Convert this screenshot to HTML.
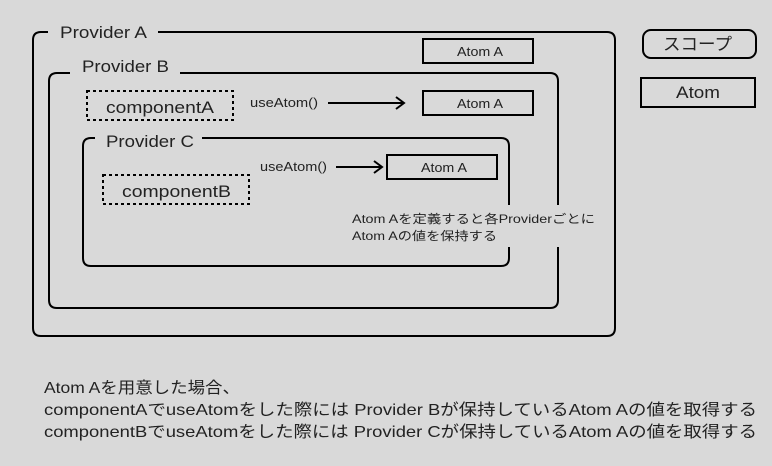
<!DOCTYPE html>
<html><head><meta charset="utf-8"><style>
html,body{margin:0;padding:0;background:#d9d9d9;}
svg{display:block;}
text{font-family:"Liberation Sans","Noto Sans CJK JP",sans-serif;fill:#222;}
</style></head><body>
<svg width="772" height="466" viewBox="0 0 772 466" xmlns="http://www.w3.org/2000/svg">
<rect width="772" height="466" fill="#d9d9d9"/>
<g fill="none" stroke="#000" stroke-width="2">
<path d="M48,32 H41 Q33,32 33,40 V328 Q33,336 41,336 H607 Q615,336 615,328 V40 Q615,32 607,32 H158"/>
<path d="M70,73 H57 Q49,73 49,81 V300 Q49,308 57,308 H550 Q558,308 558,300 V247 M558,205 V81 Q558,73 550,73 H180"/>
<path d="M95,138 H91 Q83,138 83,146 V258 Q83,266 91,266 H501 Q509,266 509,258 V247 M509,205 V146 Q509,138 501,138 H202"/>
<rect x="423" y="39" width="110" height="24"/>
<rect x="423" y="91" width="110" height="24"/>
<rect x="387" y="155" width="110" height="24"/>
<rect x="643" y="30" width="113" height="28" rx="8"/>
<rect x="641" y="78" width="114" height="29"/>
<rect x="87" y="91" width="146" height="29" stroke-dasharray="3,3"/>
<rect x="103" y="175" width="146" height="29" stroke-dasharray="3,3"/>
<path d="M328,103 H404 M396,97 L404,103 L396,109"/>
<path d="M336,167 H382 M374,161 L382,167 L374,173"/>
</g>
<text x="60" y="38" font-size="17" textLength="87" lengthAdjust="spacingAndGlyphs">Provider A</text>
<text x="82" y="72" font-size="17" textLength="87" lengthAdjust="spacingAndGlyphs">Provider B</text>
<text x="106" y="147" font-size="17" textLength="88" lengthAdjust="spacingAndGlyphs">Provider C</text>
<text x="457" y="56" font-size="13" textLength="46" lengthAdjust="spacingAndGlyphs">Atom A</text>
<text x="457" y="108" font-size="13" textLength="46" lengthAdjust="spacingAndGlyphs">Atom A</text>
<text x="421" y="172" font-size="13" textLength="46" lengthAdjust="spacingAndGlyphs">Atom A</text>
<text x="106" y="113" font-size="17" textLength="108" lengthAdjust="spacingAndGlyphs">componentA</text>
<text x="122" y="197" font-size="17" textLength="109" lengthAdjust="spacingAndGlyphs">componentB</text>
<text x="250" y="107" font-size="13" textLength="68" lengthAdjust="spacingAndGlyphs">useAtom()</text>
<text x="260" y="171" font-size="13" textLength="67" lengthAdjust="spacingAndGlyphs">useAtom()</text>
<text x="663" y="50" font-size="17" textLength="69" lengthAdjust="spacingAndGlyphs">スコープ</text>
<text x="676" y="98" font-size="17" textLength="44" lengthAdjust="spacingAndGlyphs">Atom</text>
<text x="352" y="223" font-size="12" textLength="243" lengthAdjust="spacingAndGlyphs">Atom Aを定義すると各Providerごとに</text>
<text x="352" y="240" font-size="12" textLength="145" lengthAdjust="spacingAndGlyphs">Atom Aの値を保持する</text>
<text x="44" y="393" font-size="16" textLength="196" lengthAdjust="spacingAndGlyphs">Atom Aを用意した場合、</text>
<text x="44" y="415" font-size="16" textLength="713" lengthAdjust="spacingAndGlyphs">componentAでuseAtomをした際には Provider Bが保持しているAtom Aの値を取得する</text>
<text x="44" y="437" font-size="16" textLength="713" lengthAdjust="spacingAndGlyphs">componentBでuseAtomをした際には Provider Cが保持しているAtom Aの値を取得する</text>
</svg>
</body></html>
